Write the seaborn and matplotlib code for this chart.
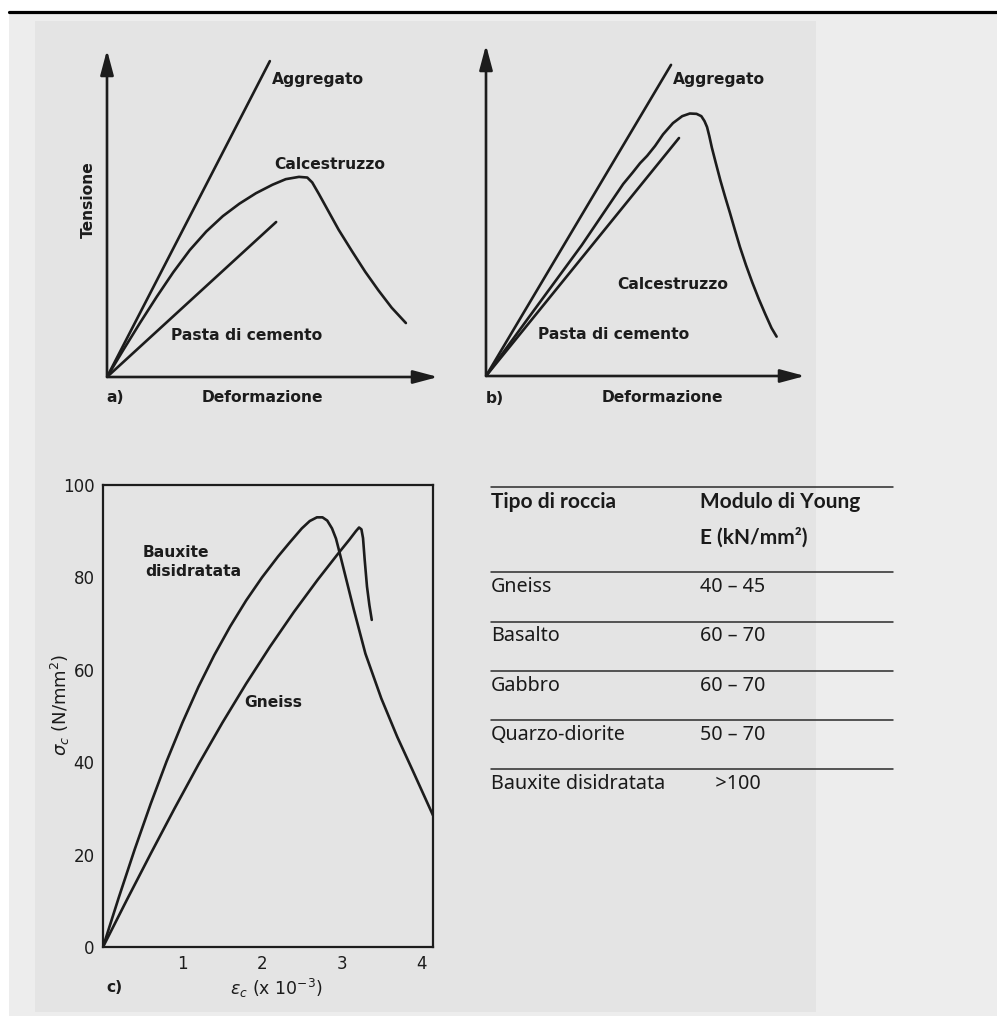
import matplotlib
matplotlib.use("Agg")
import matplotlib.pyplot as plt
from matplotlib.patches import Rectangle
from matplotlib.lines import Line2D
import seaborn as sns
import pandas as pd

# ---------------- data ----------------
# a) qualitative stress-strain sketch (arbitrary units)
a_aggr_x = [0.0, 4.92]
a_aggr_y = [0.0, 9.66]
a_paste_x = [0.0, 5.11]
a_paste_y = [0.0, 4.74]
a_conc_x = [0.0, 0.5, 1.0, 1.5, 2.0, 2.5, 3.0, 3.5, 4.0, 4.5, 5.0, 5.4, 5.8, 6.05, 6.2,
            6.4, 6.7, 7.0, 7.4, 7.8, 8.2, 8.6, 9.03]
a_conc_y = [0.0, 0.84, 1.66, 2.45, 3.2, 3.88, 4.45, 4.92, 5.3, 5.62, 5.88, 6.05, 6.12, 6.1, 5.95,
            5.6, 5.05, 4.5, 3.85, 3.22, 2.65, 2.12, 1.65]

# b) qualitative stress-strain sketch (arbitrary units)
b_aggr_x = [0.0, 5.8]
b_aggr_y = [0.0, 9.4]
b_paste_x = [0.0, 6.05]
b_paste_y = [0.0, 7.19]
b_conc_x = [0.0, 1.5, 3.0, 4.3, 4.6, 4.83, 5.05, 5.3, 5.55, 5.86, 6.15, 6.39, 6.6, 6.75, 6.85,
            6.93, 7.0, 7.08, 7.2, 7.35, 7.5, 7.65, 7.8, 7.96, 8.15, 8.35, 8.55, 8.75, 8.95, 9.11]
b_conc_y = [0.0, 1.98, 3.95, 5.8, 6.15, 6.43, 6.65, 6.95, 7.3, 7.64, 7.85, 7.93, 7.92, 7.85, 7.7,
            7.52, 7.25, 6.9, 6.45, 5.9, 5.4, 4.92, 4.42, 3.9, 3.35, 2.82, 2.33, 1.88, 1.45, 1.19]

# c) measured curves: strain (x 10^-3) vs stress (N/mm^2)
bauxite_strain = [0.0, 0.2, 0.4, 0.6, 0.8, 1.0, 1.2, 1.4, 1.6, 1.8, 2.0, 2.2, 2.35, 2.5, 2.6,
                  2.69, 2.76, 2.82, 2.88, 2.93, 2.96, 3.05, 3.15, 3.3, 3.5, 3.7, 3.9, 4.15]
bauxite_stress = [0.0, 10.8, 21.2, 31.0, 40.2, 48.6, 56.3, 63.2, 69.4, 75.0, 80.0, 84.5, 87.6,
                  90.6, 92.2, 93.0, 93.0, 92.3, 90.6, 88.4, 86.4, 80.2, 73.3, 63.5, 53.8, 45.5,
                  38.0, 28.5]
gneiss_strain = [0.0, 0.3, 0.6, 0.9, 1.2, 1.5, 1.8, 2.1, 2.4, 2.7, 2.95, 3.1, 3.18, 3.22,
                 3.25, 3.27, 3.29, 3.32, 3.35, 3.38]
gneiss_stress = [0.0, 10.2, 20.2, 30.0, 39.5, 48.5, 57.0, 65.0, 72.5, 79.5, 85.0, 88.2, 90.0, 90.8,
                 90.4, 88.5, 84.0, 78.0, 74.0, 70.8]

c_xticks = [1, 2, 3, 4]
c_yticks = [0, 20, 40, 60, 80, 100]

rocks = ["Gneiss", "Basalto", "Gabbro", "Quarzo-diorite", "Bauxite disidratata"]
young = ["40 – 45", "60 – 70", "60 – 70", "50 – 70", "   >100"]

# ---------------- figure ----------------
W, H = 997, 1016
sns.set_theme(style="white")
plt.rcParams["font.family"] = ["DejaVu Sans"]
plt.rcParams["mathtext.fontset"] = "dejavusans"

fig = plt.figure(figsize=(W / 100, H / 100), dpi=100, facecolor="white")


def fx(px):
    return px / W


def fy(py):
    return 1 - py / H


def rect(left, top, right, bottom):
    return [fx(left), fy(bottom), (right - left) / W, (bottom - top) / H]


# page backgrounds and rule
fig.add_artist(Rectangle((fx(9), 0), 1 - fx(9), fy(14), transform=fig.transFigure,
                         facecolor="#ededed", edgecolor="none", zorder=0))
fig.add_artist(Rectangle((fx(35), fy(1012)), fx(816) - fx(35), fy(21) - fy(1012),
                         transform=fig.transFigure, facecolor="#e4e4e4", edgecolor="none", zorder=0))
fig.add_artist(Line2D([fx(9), 1], [fy(12), fy(12)], transform=fig.transFigure,
                      color="black", lw=2.3, zorder=1))

INK = "#1c1c1c"
LW = 1.9
lab = dict(fontsize=11.2, fontweight="bold", color=INK)


def sketch_axes(ax):
    ax.set_xlim(0, 10)
    ax.set_ylim(0, 10)
    ax.set_facecolor("none")
    for s in ax.spines.values():
        s.set_visible(False)
    ax.set_xticks([])
    ax.set_yticks([])
    arrow = dict(arrowstyle="-|>,head_length=0.75,head_width=0.2", color=INK, lw=LW,
                 mutation_scale=20, shrinkA=0, shrinkB=0)
    ax.annotate("", xy=(10, 0), xytext=(0, 0), arrowprops=arrow, annotation_clip=False)
    ax.annotate("", xy=(0, 10), xytext=(0, 0), arrowprops=arrow, annotation_clip=False)


def draw(ax, x, y):
    sns.lineplot(x=x, y=y, ax=ax, color=INK, lw=LW, sort=False, estimator=None,
                 solid_capstyle="round", solid_joinstyle="round")


# ---- panel a ----
axa = fig.add_axes(rect(107, 50, 438, 377))
sketch_axes(axa)
draw(axa, a_aggr_x, a_aggr_y)
draw(axa, a_paste_x, a_paste_y)
draw(axa, a_conc_x, a_conc_y)
axa.text(4.98, 9.11, "Aggregato", va="center", ha="left", **lab)
axa.text(5.05, 6.51, "Calcestruzzo", va="center", ha="left", **lab)
axa.text(1.93, 1.28, "Pasta di cemento", va="center", ha="left", **lab)
axa.text(4.68, -0.64, "Deformazione", va="center", ha="center", **lab)
axa.text(-0.03, -0.64, "a)", va="center", ha="left", **lab)
axa.text(-0.57, 5.41, "Tensione", va="center", ha="center", rotation=90, **lab)

# ---- panel b ----
axb = fig.add_axes(rect(486, 45, 805, 376))
sketch_axes(axb)
draw(axb, b_aggr_x, b_aggr_y)
draw(axb, b_paste_x, b_paste_y)
draw(axb, b_conc_x, b_conc_y)
axb.text(5.86, 8.97, "Aggregato", va="center", ha="left", **lab)
axb.text(4.11, 2.75, "Calcestruzzo", va="center", ha="left", **lab)
axb.text(1.63, 1.24, "Pasta di cemento", va="center", ha="left", **lab)
axb.text(5.53, -0.66, "Deformazione", va="center", ha="center", **lab)
axb.text(0.0, -0.69, "b)", va="center", ha="left", **lab)

# ---- panel c ----
axc = fig.add_axes(rect(103, 485, 433, 947))
axc.set_facecolor("none")
df_c = pd.concat([
    pd.DataFrame({"strain": bauxite_strain, "stress": bauxite_stress, "rock": "Bauxite"}),
    pd.DataFrame({"strain": gneiss_strain, "stress": gneiss_stress, "rock": "Gneiss"}),
])
sns.lineplot(data=df_c, x="strain", y="stress", units="rock", estimator=None, sort=False,
             ax=axc, color=INK, lw=LW, legend=False)
axc.set_xlim(0, 4.15)
axc.set_ylim(0, 100)
axc.set_xticks(c_xticks)
axc.set_yticks(c_yticks)
axc.set_xticklabels([str(t) for t in c_xticks])
axc.set_yticklabels([str(t) for t in c_yticks])
for s in axc.spines.values():
    s.set_visible(True)
    s.set_color(INK)
    s.set_linewidth(1.6)
axc.tick_params(direction="in", length=9, width=1.5, color=INK, labelsize=12,
                labelcolor=INK, pad=6)
axc.set_xlabel("")
axc.set_ylabel("")
axc.text(0.5, 85.3, "Bauxite", va="center", ha="left", **lab)
axc.text(0.53, 81.3, "disidratata", va="center", ha="left", **lab)
axc.text(1.78, 52.9, "Gneiss", va="center", ha="left", **lab)
fig.text(fx(60), fy(705), r"$\sigma_c$ (N/mm$^2$)", rotation=90, ha="center", va="center",
         fontsize=13, color=INK)
fig.text(fx(276), fy(988), r"$\varepsilon_c$ (x 10$^{-3}$)", ha="center", va="center",
         fontsize=12.5, color=INK)
fig.text(fx(106), fy(988), "c)", ha="left", va="center", **lab)

# ---- table ----
BODY_FONT = ["Noto Sans", "DejaVu Sans"]
HEAD_FONT = ["Lato", "DejaVu Sans"]
for yl in [487, 572, 622, 671, 720, 769]:
    fig.add_artist(Line2D([fx(491), fx(893)], [fy(yl), fy(yl)], transform=fig.transFigure,
                          color="#2a2a2a", lw=1.1))
hdr = dict(ha="left", va="center", fontsize=15, fontweight="bold", family=HEAD_FONT,
           color="#1a1a1a")
fig.text(fx(491), fy(502), "Tipo di roccia", **hdr)
fig.text(fx(700), fy(502), "Modulo di Young", **hdr)
fig.text(fx(700), fy(537), "E (kN/mm²)", **hdr)
body = dict(ha="left", va="center", fontsize=14.2, family=BODY_FONT, color="#1a1a1a")
for i, (r, v) in enumerate(zip(rocks, young)):
    yc = 587 + i * 49.3
    fig.text(fx(491), fy(yc), r, **body)
    fig.text(fx(700), fy(yc), v, **body)

fig.savefig("out.png", dpi=100, facecolor="white")
